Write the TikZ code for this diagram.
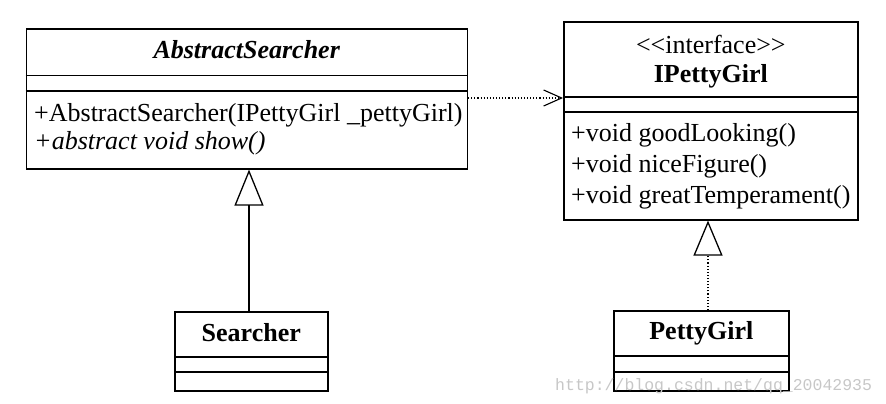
\documentclass[tikz,border=0pt]{standalone}
\usepackage{fontspec}
\setmainfont{Liberation Serif}
\newfontfamily\wmfont{Liberation Mono}
\usetikzlibrary{arrows.meta}

\tikzset{
  classbox/.style={draw, line width=1.6pt, inner sep=0pt, anchor=north west},
  classname/.style={font=\fontsize{26}{28}\selectfont\bfseries, inner sep=0pt},
  member/.style={anchor=west, inner sep=0pt},
  sep/.style={line width=1.3pt},
  inherit/.style={line width=1.3pt, -{Triangle[open, length=36pt, width=29pt]}},
  realize/.style={line width=1.1pt, dotted, -{Triangle[open, length=35pt, width=29pt, line width=1.3pt, sep=0pt]}},
  depend/.style={line width=1.1pt, dotted, -{Straight Barb[length=18pt, width=16pt, line width=1.1pt]}},
  watermark/.style={font=\wmfont\fontsize{16.5}{18}\selectfont, text=black!22, inner sep=0pt, anchor=base west}
}

\begin{document}
\begin{tikzpicture}[x=1pt,y=1pt,yscale=-1,font=\fontsize{26}{28}\selectfont]
\useasboundingbox (0,0) rectangle (886,404);

% AbstractSearcher
\node [classbox, minimum width=441pt, minimum height=140pt] (abs) at (25.5,28) {};
\node [classname] (abs-name) at (abs.north |- 0,50) {\textit{AbstractSearcher}};
\draw [sep] (abs.west |- 0,75.5) -- (abs.east |- 0,75.5);
\draw [sep] (abs.west |- 0,91) -- (abs.east |- 0,91);
\node [member] (abs-m1) at (34,115) {+AbstractSearcher(IPettyGirl \_pettyGirl)};
\node [member] (abs-m2) at (34,143) {\textit{+abstract void show()}};

% IPettyGirl
\node [classbox, minimum width=294pt, minimum height=198pt] (ipg) at (563,21) {};
\node [inner sep=0pt] (ipg-st) at (ipg.north |- 0,44) {<{}<interface>{}>};
\node [classname] (ipg-name) at (ipg.north |- 0,76) {IPettyGirl};
\draw [sep] (ipg.west |- 0,97) -- (ipg.east |- 0,97);
\draw [sep] (ipg.west |- 0,112) -- (ipg.east |- 0,112);
\node [member] (ipg-m1) at (571,135) {+void goodLooking()};
\node [member] (ipg-m2) at (571,166) {+void niceFigure()};
\node [member] (ipg-m3) at (571,197) {+void greatTemperament()};

% Searcher
\node [classbox, minimum width=153pt, minimum height=79pt] (srch) at (174,311) {};
\node [classname] (srch-name) at (srch.north |- 0,333) {Searcher};
\draw [sep] (srch.west |- 0,357) -- (srch.east |- 0,357);
\draw [sep] (srch.west |- 0,372) -- (srch.east |- 0,372);

% PettyGirl
\node [classbox, minimum width=175pt, minimum height=80pt] (pg) at (613,310) {};
\node [classname] (pg-name) at (pg.north |- 0,333) {PettyGirl};
\draw [sep] (pg.west |- 0,356) -- (pg.east |- 0,356);
\draw [sep] (pg.west |- 0,372) -- (pg.east |- 0,372);

% relations
\draw [inherit] (srch.north -| 249,0) -- (abs.south -| 249,0);
\draw [realize] (pg.north -| 708,0) -- (ipg.south -| 708,0);
\draw [depend] (abs.east |- 0,98) -- (ipg.west |- 0,98);

\node [watermark] (wm) at (555,390) {http://blog.csdn.net/qq\_20042935};
\end{tikzpicture}
\end{document}
